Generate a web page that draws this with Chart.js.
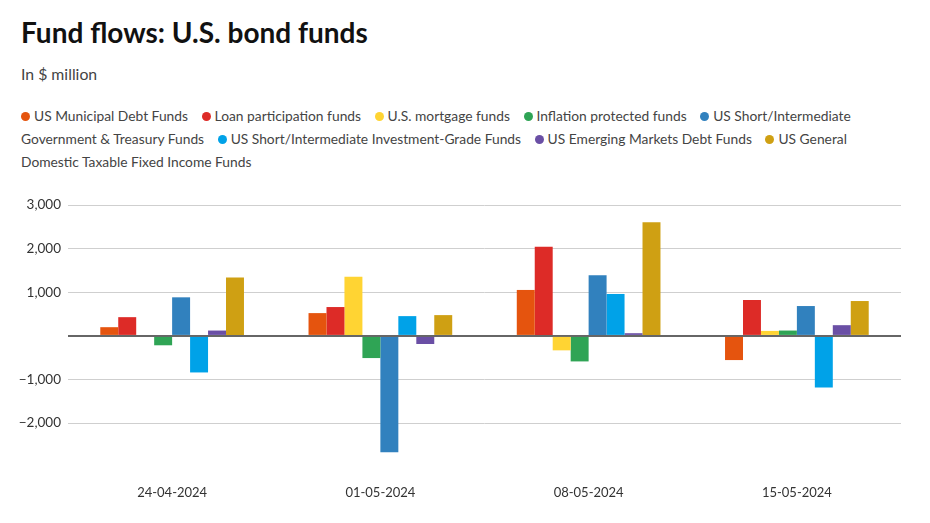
<!DOCTYPE html>
<html>
<head>
<meta charset="utf-8">
<script src="https://cdn.jsdelivr.net/npm/chart.js@4"></script>
<style>
  body { margin: 0; width: 930px; height: 523px; background: #fff; font-family: Lato, "Noto Sans", sans-serif; overflow: hidden; position: relative; }
  h1 { position: absolute; left: 21px; top: 15px; margin: 0; font-size: 28px; font-weight: 700; color: #111; letter-spacing: 0px; }
  .sub { position: absolute; left: 21px; top: 64px; font-size: 15.8px; color: #444; }
  #legend { position: absolute; left: 21px; top: 104px; width: 850px; font-size: 13.8px; line-height: 23px; color: #444; }
  #legend span.item { margin-right: 10px; }
  #legend i { display: inline-block; width: 9px; height: 9px; border-radius: 50%; margin-right: 4px; vertical-align: 0px; }
  #wrap { position: absolute; left: 0; top: 190px; width: 930px; height: 333px; }
</style>
</head>
<body>
<h1>Fund flows: U.S. bond funds</h1>
<div class="sub">In $ million</div>
<div id="legend"></div>
<div id="wrap"><canvas id="fundChart"></canvas></div>
<script>
  const weeks = ['24-04-2024', '01-05-2024', '08-05-2024', '15-05-2024'];
  const fundNames = [
    'US Municipal Debt Funds',
    'Loan participation funds',
    'U.S. mortgage funds',
    'Inflation protected funds',
    'US Short/Intermediate Government & Treasury Funds',
    'US Short/Intermediate Investment-Grade Funds',
    'US Emerging Markets Debt Funds',
    'US General Domestic Taxable Fixed Income Funds'
  ];
  const municipal = [200, 523, 1054, -554];
  const loanParticipation = [430, 662, 2046, 823];
  const mortgage = [0, 1354, -331, 115];
  const inflationProtected = [-215, -508, -585, 123];
  const govTreasury = [885, -2670, 1392, 685];
  const investmentGrade = [-838, 454, 962, -1185];
  const emergingMarkets = [123, -185, 62, 246];
  const generalTaxable = [1338, 477, 2608, 800];
  const tickValues = [-2000, -1000, 0, 1000, 2000, 3000];

  const colors = ['#e5540e', '#dd2b27', '#ffd433', '#2fa455', '#3181be', '#00a2e8', '#6a4fa5', '#cfa013'];
  const series = [municipal, loanParticipation, mortgage, inflationProtected, govTreasury, investmentGrade, emergingMarkets, generalTaxable];

  document.getElementById('legend').innerHTML = fundNames.map((n, i) =>
    '<span class="item"><i style="background:' + colors[i] + '"></i>' + n + '</span>').join(' ');

  const fmt = v => (v < 0 ? '\u2212' : '') + Math.abs(v).toLocaleString('en-US');

  document.addEventListener('DOMContentLoaded', () => {
    const ctx = document.getElementById('fundChart').getContext('2d');
    new Chart(ctx, {
      type: 'bar',
      data: {
        labels: weeks,
        datasets: series.map((d, i) => ({
          label: fundNames[i],
          data: d,
          backgroundColor: colors[i],
          barPercentage: 1,
          categoryPercentage: 0.69
        }))
      },
      options: {
        responsive: true,
        maintainAspectRatio: false,
        animation: false,
        layout: { padding: { top: 9.5, right: 29, bottom: 0, left: 0 } },
        plugins: { legend: { display: false }, tooltip: { enabled: false } },
        scales: {
          x: {
            grid: { display: false },
            border: { display: false },
            afterFit: s => { s.height = 65; },
            ticks: { color: '#333', font: { family: 'Lato', size: 13 }, padding: 19 }
          },
          y: {
            min: -2800,
            max: 3000,
            afterBuildTicks: s => { s.ticks = tickValues.map(v => ({ value: v })); },
            afterFit: s => { s.width = 68; },
            border: { display: false },
            grid: {
              drawTicks: false,
              color: c => c.tick && c.tick.value === 0 ? '#666' : '#cfcfcf',
              lineWidth: c => c.tick && c.tick.value === 0 ? 2 : 1
            },
            ticks: {
              color: '#333',
              padding: 7,
              font: { family: 'Lato', size: 13.5 },
              callback: v => v === 0 ? '' : fmt(v)
            }
          }
        }
      }
    });
  });
</script>
</body>
</html>
